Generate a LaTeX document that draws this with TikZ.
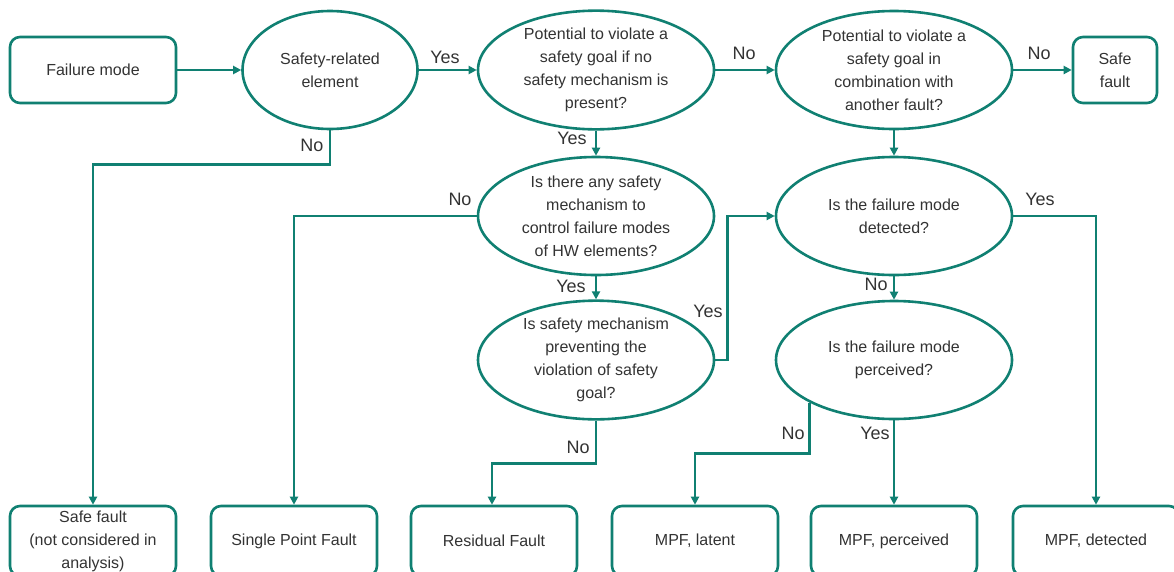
\documentclass[tikz,border=0pt]{standalone}
\usepackage{fontspec}
\setmainfont{Liberation Sans}
\usetikzlibrary{shapes.geometric,arrows.meta}
\definecolor{teal}{RGB}{16,128,114}
\definecolor{ink}{RGB}{51,51,51}
\tikzset{
  base/.style={draw=teal, line width=2.6pt, text=ink, align=center, inner sep=0pt,
    font=\fontsize{16}{23}\selectfont},
  termbox/.style={base, rectangle, rounded corners=10pt, minimum width=166pt, minimum height=66pt},
  smallbox/.style={base, rectangle, rounded corners=10pt, minimum width=84pt, minimum height=66pt},
  endbox/.style={base, rectangle, rounded corners=10pt, minimum width=166pt, minimum height=70pt},
  decision/.style={base, ellipse, minimum width=236pt, minimum height=118pt},
  conn/.style={draw=teal, line width=2.6pt, -{Triangle[length=8pt,width=8pt]}},
  lbl/.style={text=ink, font=\fontsize{18}{20}\selectfont, inner sep=0pt},
}
\begin{document}
\begin{tikzpicture}[x=1pt,y=-1pt]
\clip (0,0) rectangle (1174,571);
\fill[white] (0,0) rectangle (1174,571);

% top row
\node[termbox] (fm) at (93,70) {Failure mode};
\node[base, ellipse, minimum width=175pt, minimum height=118pt] (sr) at (330,70) {Safety-related\\element};
\node[decision] (pv) at (596,70) {Potential to violate a\\safety goal if no\\safety mechanism is\\present?};
\node[decision] (pc) at (894,70) {Potential to violate a\\safety goal in\\combination with\\another fault?};
\node[smallbox] (sf) at (1115,70) {Safe\\fault};

% middle decisions
\node[decision] (sm) at (596,216) {Is there any safety\\mechanism to\\control failure modes\\of HW elements?};
\node[decision] (sp) at (596,360) {Is safety mechanism\\preventing the\\violation of safety\\goal?};
\node[decision] (dt) at (894,216) {Is the failure mode\\detected?};
\node[decision] (pe) at (894,360) {Is the failure mode\\perceived?};

% bottom results
\node[endbox] (r1) at (93,541)  {Safe fault\\(not considered in\\analysis)};
\node[endbox] (r2) at (294,541) {Single Point Fault};
\node[endbox] (r3) at (494,541) {Residual Fault};
\node[endbox] (r4) at (695,541) {MPF, latent};
\node[endbox] (r5) at (894,541) {MPF, perceived};
\node[endbox] (r6) at (1096,541) {MPF, detected};

% connectors
\draw[conn] (fm.east) -- (sr.west);
\draw[conn] (sr.east) -- (pv.west);
\draw[conn] (pv.east) -- (pc.west);
\draw[conn] (pc.east) -- (sf.west);
\draw[conn] (pv.south) -- (sm.north);
\draw[conn] (pc.south) -- (dt.north);
\draw[conn] (sr.south) -- ++(0,34) -| (r1.north);
\draw[conn] (sm.west) -| (r2.north);
\draw[conn] (sm.south) -- (sp.north);
\draw[conn] (sp.east) -- ++(12,0) |- (dt.west);
\draw[conn] (sp.south) -- ++(0,43) -| ([xshift=-2pt]r3.north);
\draw[conn] (dt.east) -| (r6.north);
\draw[conn] (dt.south) -- (pe.north);
\draw[conn] (pe.south west) |- ++(0,51) -| (r4.north);
\draw[conn] (pe.south) -- (r5.north);

% branch labels
\node[lbl] (l1)  at (445,57)  {Yes};
\node[lbl] (l2)  at (744,53)  {No};
\node[lbl] (l3)  at (1039,53) {No};
\node[lbl] (l4)  at (572,138) {Yes};
\node[lbl] (l5)  at (312,145) {No};
\node[lbl] (l6)  at (460,199) {No};
\node[lbl] (l7)  at (571,286) {Yes};
\node[lbl] (l8)  at (708,311) {Yes};
\node[lbl] (l9)  at (578,447) {No};
\node[lbl] (l10) at (1040,199) {Yes};
\node[lbl] (l11) at (876,284) {No};
\node[lbl] (l12) at (793,433) {No};
\node[lbl] (l13) at (875,433) {Yes};
\end{tikzpicture}
\end{document}
